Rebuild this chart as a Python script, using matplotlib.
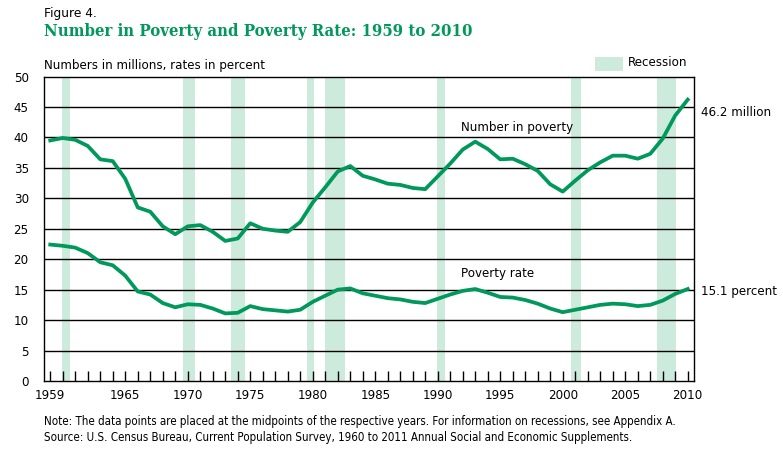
import numpy as np
import matplotlib.pyplot as plt
from matplotlib.patches import Rectangle

# data
years = list(range(1959, 2011))
number_in_poverty = [39.5, 39.9, 39.6, 38.6, 36.4, 36.1, 33.2, 28.5, 27.8, 25.4,
                     24.1, 25.4, 25.6, 24.5, 23.0, 23.4, 25.9, 25.0, 24.7, 24.5,
                     26.1, 29.3, 31.8, 34.4, 35.3, 33.7, 33.1, 32.4, 32.2, 31.7,
                     31.5, 33.6, 35.7, 38.0, 39.3, 38.1, 36.4, 36.5, 35.6, 34.5,
                     32.3, 31.1, 32.9, 34.6, 35.9, 37.0, 37.0, 36.5, 37.3, 39.8,
                     43.6, 46.2]
poverty_rate = [22.4, 22.2, 21.9, 21.0, 19.5, 19.0, 17.3, 14.7, 14.2, 12.8,
                12.1, 12.6, 12.5, 11.9, 11.1, 11.2, 12.3, 11.8, 11.6, 11.4,
                11.7, 13.0, 14.0, 15.0, 15.2, 14.4, 14.0, 13.6, 13.4, 13.0,
                12.8, 13.5, 14.2, 14.8, 15.1, 14.5, 13.8, 13.7, 13.3, 12.7,
                11.9, 11.3, 11.7, 12.1, 12.5, 12.7, 12.6, 12.3, 12.5, 13.2,
                14.3, 15.1]
recession_start = [1960.46, 1970.14, 1973.98, 1980.06, 1981.5, 1990.44, 2001.2, 2008.08]
recession_end = [1961.08, 1971.08, 1975.07, 1980.6, 1983.05, 1991.1, 2001.98, 2009.57]
tick_years = [1959, 1965, 1970, 1975, 1980, 1985, 1990, 1995, 2000, 2005, 2010]

green = '#00985B'
band = '#CDEBDD'
fs = 8.6

fig = plt.figure(figsize=(7.83, 4.57), dpi=100)
ax = fig.add_axes([0.0562, 0.1663, 0.8301, 0.6663])

# data points sit at the midpoints of the years
x = np.array(years) + 0.5

for s, e in zip(recession_start, recession_end):
    ax.axvspan(s, e, color=band, lw=0, zorder=0)

for v in range(5, 50, 5):
    ax.axhline(v, color='black', lw=1, zorder=1)

ax.plot(x, number_in_poverty, color=green, lw=2.7, zorder=3, solid_joinstyle='round')
ax.plot(x, poverty_rate, color=green, lw=2.7, zorder=3, solid_joinstyle='round')

ax.set_xlim(1959, 2011)
ax.set_ylim(0, 50)
ax.set_yticks(range(0, 51, 5))
ax.set_xticks([t + 0.5 for t in tick_years])
ax.set_xticklabels([str(t) for t in tick_years])
ax.set_xticks(x, minor=True)
ax.tick_params(axis='y', length=0, pad=11, labelsize=fs)
ax.tick_params(axis='x', which='both', direction='in', length=7.5, width=1,
               pad=6, labelsize=fs)
for sp in ax.spines.values():
    sp.set_linewidth(1)

# text
fig.text(44 / 783, 1 - 13 / 457, 'Figure 4.', fontsize=8.8, va='center', ha='left')
fig.text(44 / 783, 1 - 31 / 457, 'Number in Poverty and Poverty Rate: 1959 to 2010',
         fontsize=12, fontweight='bold', fontstretch='condensed', family='DejaVu Serif',
         color=green, va='center', ha='left')
fig.text(44 / 783, 1 - 65 / 457, 'Numbers in millions, rates in percent',
         fontsize=fs, va='center', ha='left')

fig.patches.append(Rectangle((595 / 783, 1 - 71 / 457), 28 / 783, 14 / 457,
                             transform=fig.transFigure, color=band, lw=0))
fig.text(628 / 783, 1 - 63 / 457, 'Recession', fontsize=fs, va='center', ha='left')

fig.text(461 / 783, 1 - 128 / 457, 'Number in poverty', fontsize=fs, va='center', ha='left')
fig.text(461 / 783, 1 - 274 / 457, 'Poverty rate', fontsize=fs, va='center', ha='left')
fig.text(701 / 783, 1 - 112 / 457, '46.2 million', fontsize=fs, va='center', ha='left')
fig.text(701 / 783, 1 - 291 / 457, '15.1 percent', fontsize=fs, va='center', ha='left')

fig.text(44 / 783, 1 - 422 / 457,
         'Note: The data points are placed at the midpoints of the respective years. '
         'For information on recessions, see Appendix A.',
         fontsize=8.3, fontstretch='condensed', va='center', ha='left')
fig.text(44 / 783, 1 - 438 / 457,
         'Source: U.S. Census Bureau, Current Population Survey, 1960 to 2011 '
         'Annual Social and Economic Supplements.',
         fontsize=8.3, fontstretch='condensed', va='center', ha='left')

fig.savefig('out.png', dpi=100)
